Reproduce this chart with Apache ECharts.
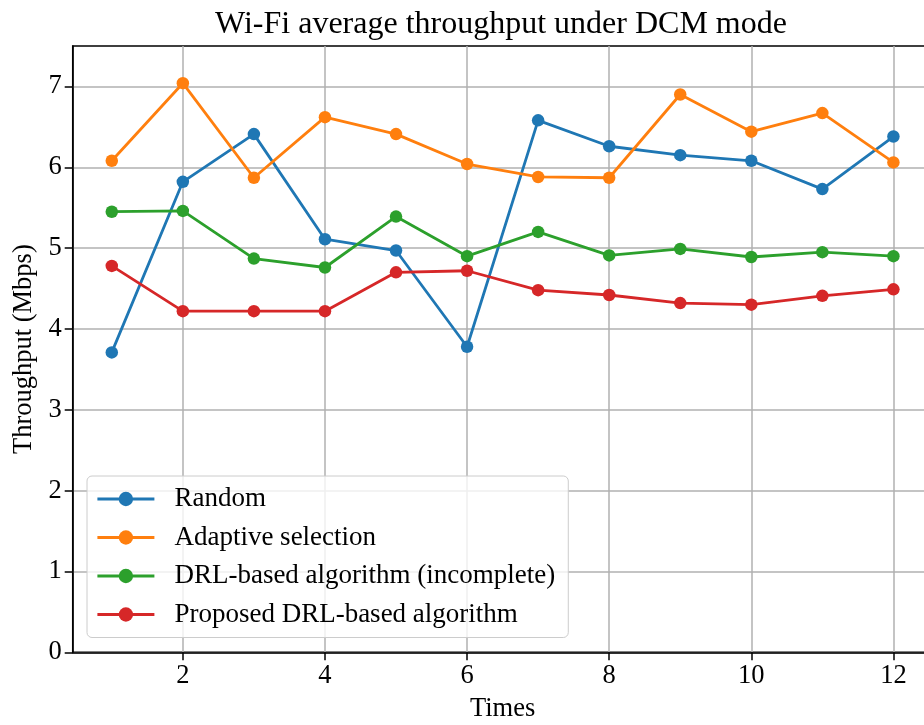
<!DOCTYPE html>
<html>
<head>
<meta charset="utf-8">
<script src="https://cdn.jsdelivr.net/npm/echarts@6/dist/echarts.min.js"></script>
<style>
html,body{margin:0;padding:0;background:#fff;}
#chart{width:924px;height:725px;}
</style>
</head>
<body>
<div id="chart"></div>
<script>
const times = [1, 2, 3, 4, 5, 6, 7, 8, 9, 10, 11, 12];
const randomVals = [3.71, 5.82, 6.41, 5.11, 4.97, 3.78, 6.58, 6.26, 6.15, 6.08, 5.73, 6.38];
const adaptiveVals = [6.08, 7.04, 5.87, 6.62, 6.41, 6.04, 5.88, 5.87, 6.90, 6.44, 6.67, 6.06];
const drlIncompleteVals = [5.45, 5.46, 4.87, 4.76, 5.39, 4.90, 5.20, 4.91, 4.99, 4.89, 4.95, 4.90];
const proposedVals = [4.78, 4.22, 4.22, 4.22, 4.70, 4.72, 4.48, 4.42, 4.32, 4.30, 4.41, 4.49];
const seriesNames = ['Random', 'Adaptive selection', 'DRL-based algorithm (incomplete)', 'Proposed DRL-based algorithm'];
const xTicks = [2, 4, 6, 8, 10, 12];
const yTicks = [0, 1, 2, 3, 4, 5, 6, 7];

const colors = ['#1f77b4', '#ff7f0e', '#2ca02c', '#d62728'];
const FONT = '"Liberation Serif", "DejaVu Serif", serif';
const allVals = [randomVals, adaptiveVals, drlIncompleteVals, proposedVals];

const chart = echarts.init(document.getElementById('chart'), null, {renderer: 'canvas'});
const option = {
  animation: false,
  backgroundColor: '#ffffff',
  textStyle: {fontFamily: FONT, color: '#000'},
  title: {
    text: 'Wi-Fi average throughput under DCM mode',
    left: 496,
    top: 4,
    textAlign: 'center',
    textStyle: {fontFamily: FONT, fontSize: 32, fontWeight: 'normal', color: '#000'}
  },
  grid: {
    left: 72.7, top: 46, right: -8.5, bottom: 72.7,
    containLabel: false,
    outerBoundsMode: 'none',
    show: true, borderColor: '#000', borderWidth: 1.5, backgroundColor: 'transparent'
  },
  legend: {
    orient: 'vertical',
    left: 87, top: 476,
    padding: [9, 13, 9, 9],
    itemGap: 10.5,
    itemWidth: 57, itemHeight: 18,
    backgroundColor: 'rgba(255,255,255,0.8)',
    borderColor: '#cccccc', borderWidth: 1, borderRadius: 5,
    lineStyle: {width: 2.8},
    textStyle: {fontFamily: FONT, fontSize: 27, color: '#000', lineHeight: 28, padding: [0, 0, 0, 15]},
    data: seriesNames
  },
  xAxis: {
    type: 'value',
    min: 0.45, max: 12.55,
    name: 'Times', nameLocation: 'middle', nameGap: 43,
    nameTextStyle: {fontFamily: FONT, fontSize: 26.5, color: '#000'},
    axisLine: {show: true, onZero: false, lineStyle: {color: '#000', width: 1.5}},
    axisTick: {show: true, inside: false, length: 8, lineStyle: {color: '#000', width: 1.5}, customValues: xTicks},
    axisLabel: {fontFamily: FONT, fontSize: 26.5, color: '#000', margin: 10, customValues: xTicks},
    splitLine: {show: true, lineStyle: {color: '#b0b0b0', width: 1.5}}
  },
  yAxis: {
    type: 'value',
    min: 0, max: 7.5, interval: 1,
    name: 'Throughput (Mbps)', nameLocation: 'middle', nameGap: 35,
    nameTextStyle: {fontFamily: FONT, fontSize: 26.5, color: '#000'},
    axisLine: {show: true, lineStyle: {color: '#000', width: 1.5}},
    axisTick: {show: true, inside: false, length: 8, lineStyle: {color: '#000', width: 1.5}, customValues: yTicks},
    axisLabel: {fontFamily: FONT, fontSize: 26.5, color: '#000', margin: 11, customValues: yTicks},
    splitLine: {show: true, lineStyle: {color: '#b0b0b0', width: 1.5}}
  },
  series: seriesNames.map((name, i) => ({
    name: name,
    type: 'line',
    data: times.map((t, j) => [t, allVals[i][j]]),
    symbol: 'circle',
    symbolSize: 12.5,
    showSymbol: true,
    color: colors[i],
    lineStyle: {color: colors[i], width: 2.8},
    itemStyle: {color: colors[i]},
    z: 3 + i
  }))
};
chart.setOption(option);
</script>
</body>
</html>
